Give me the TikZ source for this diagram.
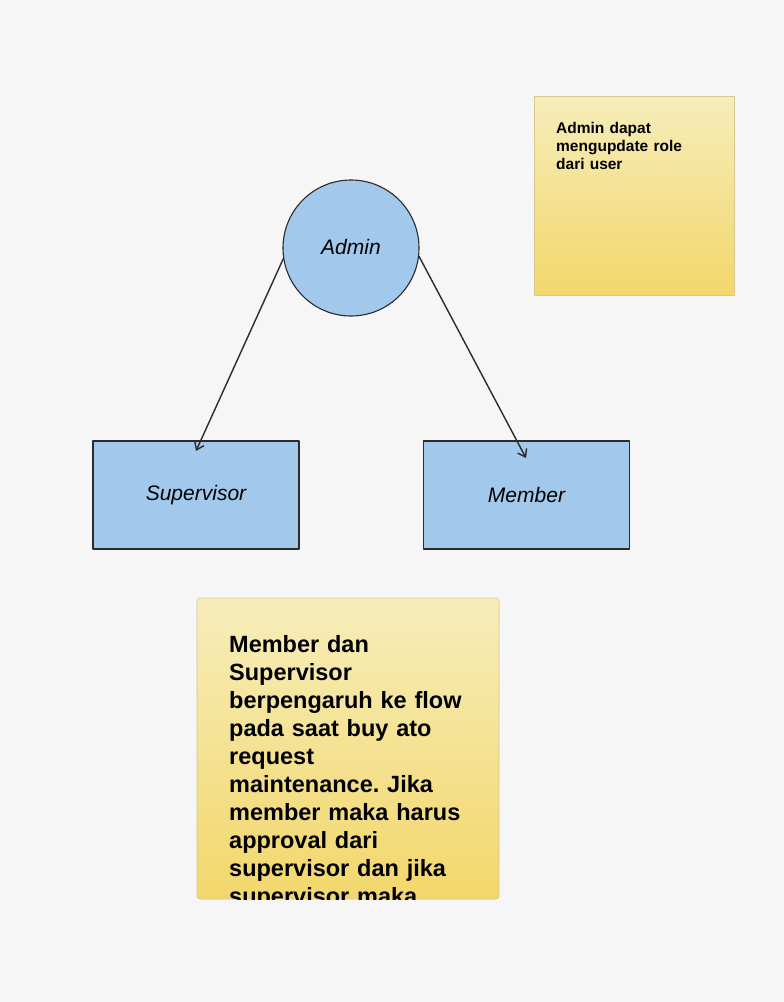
\documentclass[tikz,border=0pt]{standalone}
\usepackage{fontspec}
\setmainfont{Liberation Sans}
\usetikzlibrary{arrows.meta}
\frenchspacing
\definecolor{bgGray}{HTML}{F6F6F6}
\definecolor{roleBlue}{HTML}{A2C8EC}
\definecolor{roleLine}{HTML}{2B2B2B}
\definecolor{noteTop}{HTML}{F7EDBA}
\definecolor{noteBot}{HTML}{F2D76B}
\definecolor{noteLine}{HTML}{D6C892}
\tikzset{
	role/.style={draw=roleLine, line width=1.1pt, fill=roleBlue, font=\itshape\fontsize{21}{24}\selectfont},
	rolebox/.style={role, rectangle, minimum width=206pt, minimum height=108pt, inner sep=0pt},
	rolecircle/.style={role, circle, minimum size=136pt, inner sep=0pt},
	sticky/.style={draw=noteLine, line width=0.6pt, top color=noteTop, bottom color=noteBot},
	notetext/.style={anchor=north west, inner sep=0pt, align=left, font=\bfseries}
}
\begin{document}
\begin{tikzpicture}[x=1pt, y=-1pt, line join=round, line cap=round, >={Straight Barb[length=7pt,width=10pt]}]
	\fill[bgGray] (0,0) rectangle (784,1002);
	\useasboundingbox (0,0) rectangle (784,1002);
	% roles
	\node[rolecircle] (admin) at (351,248) {\raisebox{3pt}{Admin}};
	\node[rolebox] (supervisor) at (196,495) {\raisebox{-3pt}{Supervisor}};
	\node[rolebox] (member) at (526.5,495) {\raisebox{-3pt}{Member}};
	\coordinate (supEnd) at (196,451);
	\coordinate (memEnd) at (526,458);
	\draw[->, roleLine, line width=1.4pt] (admin.189)--(supEnd);
	\draw[->, roleLine, line width=1.4pt] (admin.353)--(memEnd);
	% notes
	\draw[sticky] (534,96) rectangle (734,295);
	\node[notetext, text width=175pt, font=\bfseries\fontsize{15.5}{18}\selectfont] (noteAdmin) at (556,122) {Admin dapat\\ mengupdate role\\ dari user};
	\draw[sticky, rounded corners=3pt] (197,598) rectangle (499,899);
	\begin{scope}
		\clip[rounded corners=3pt] (197,598) rectangle (499,899);
		\node[notetext, text width=265pt, font=\bfseries\fontsize{23.5}{28}\selectfont] (noteFlow) at (229,635) {Member dan\\ Supervisor\\ berpengaruh ke flow\\ pada saat buy ato\\ request\\ maintenance. Jika\\ member maka harus\\ approval dari\\ supervisor dan jika\\ supervisor maka};
	\end{scope}
\end{tikzpicture}
\end{document}
